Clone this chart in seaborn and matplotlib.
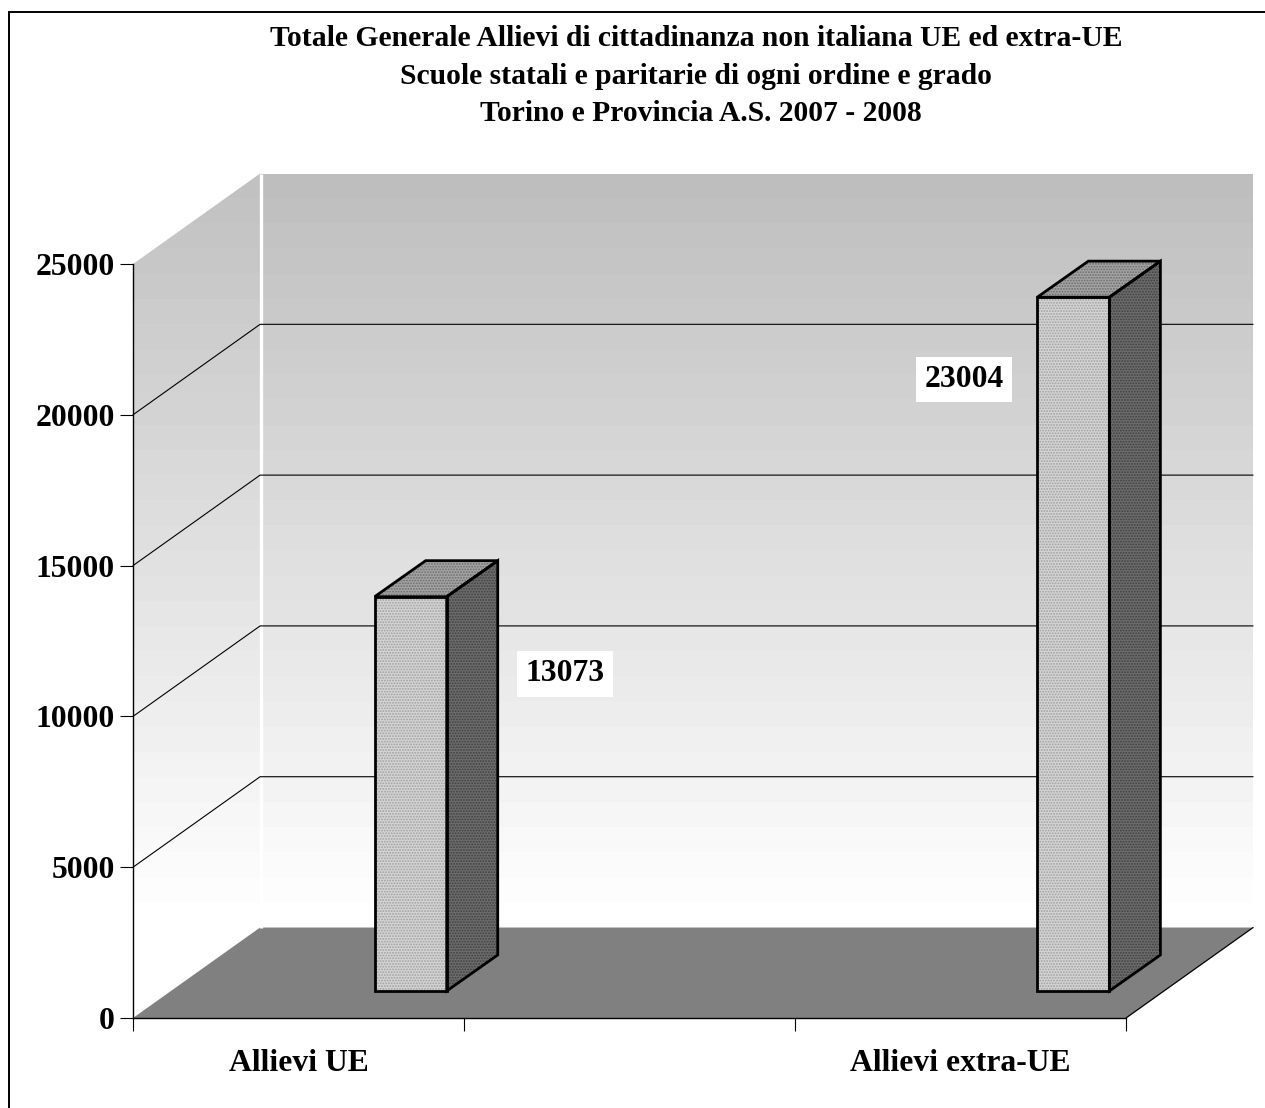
import numpy as np
import matplotlib
matplotlib.use("Agg")
import matplotlib.pyplot as plt
from matplotlib.lines import Line2D
from matplotlib.patches import Polygon
import seaborn as sns

title_lines = ["Totale Generale Allievi di cittadinanza non italiana UE ed extra-UE",
               "Scuole statali e paritarie di ogni ordine e grado",
               "Torino e Provincia A.S. 2007 - 2008"]
categories = ["Allievi UE", " ", "Allievi extra-UE"]
values = [13073, np.nan, 23004]
y_ticks = [0, 5000, 10000, 15000, 20000, 25000]

W, H = 1265, 1108
sns.set_theme(style="white")
plt.rcParams["font.family"] = ["Liberation Serif", "DejaVu Serif"]
plt.rcParams["font.weight"] = "bold"
plt.rcParams["hatch.linewidth"] = 0.9

fig = plt.figure(figsize=(W / 100, H / 100), dpi=100, facecolor="white")


def px_axes(left, bottom_y, width, height, **kw):
    return fig.add_axes([left / W, (H - bottom_y) / H, width / W, height / H], **kw)


ax = px_axes(133, 1018, 993, 754)
ax.set_facecolor("none")
ax.set_xlim(-0.5, 2.5)
ax.set_ylim(0, 25000)

# depth of the 3D box, in data units
dx, dy = 0.384, 3000
x0, x1 = -0.5, 2.5
y1 = 25000


def gradient(verts, top_grey, zorder):
    """Banded grey gradient (dark at top, white at the bottom of the back wall)."""
    bands = np.linspace(top_grey, 1.0, 30).reshape(-1, 1)
    im = ax.imshow(bands, cmap="gray", vmin=0, vmax=1, aspect="auto", origin="upper",
                   extent=(x0, x1 + dx, dy, y1 + dy), interpolation="nearest", zorder=zorder)
    clip = Polygon(verts, closed=True, transform=ax.transData)
    im.set_clip_on(True)
    im.set_clip_box(fig.bbox)
    im.set_clip_path(clip)
    return im


# side wall and back wall
left_wall = [(x0, dy), (x0 + dx, dy), (x0 + dx, y1 + dy), (x0, y1)]
back_wall = [(x0 + dx, dy), (x1 + dx, dy), (x1 + dx, y1 + dy), (x0 + dx, y1 + dy)]
gradient(back_wall, 0.745, 1)
gradient(left_wall, 0.755, 1)

ax.set_xlim(x0, x1)
ax.set_ylim(0, y1)

# floor
ax.add_patch(Polygon([(x0, 0), (x0 + dx, dy), (x1 + dx, dy), (x1, 0)], closed=True,
                     fc="#808080", ec="none", zorder=2, clip_on=False))
ax.plot([x1, x1 + dx], [0, dy], color="black", lw=0.9, zorder=3, clip_on=False)
# white corner between walls
ax.plot([x0 + dx + 0.003, x0 + dx + 0.003], [dy, y1 + dy], color="white", lw=2.4, zorder=3, clip_on=False,
        solid_capstyle="butt")

# grid on the walls
for t in y_ticks[1:-1]:
    ax.plot([x0, x0 + dx, x1 + dx], [t, t + dy, t + dy], color="black", lw=0.8,
            zorder=3, clip_on=False, solid_joinstyle="miter")

# axes
for s in ["top", "right"]:
    ax.spines[s].set_visible(False)
for s in ["left", "bottom"]:
    ax.spines[s].set_visible(True)
    ax.spines[s].set_color("black")
    ax.spines[s].set_linewidth(1.0)
    ax.spines[s].set_zorder(4)
ax.spines["left"].set_bounds(0, y1)
ax.set_yticks(y_ticks)
ax.set_yticklabels([str(t) for t in y_ticks])
ax.set_xticks([-0.5, 0.5, 1.5, 2.5])
ax.set_xticklabels([])
ax.set_xticks([0, 1, 2], minor=True)
ax.set_xticklabels(categories, minor=True)
ax.tick_params(axis="y", which="major", left=True, length=9.4, width=0.8, color="black",
               labelsize=22.8, pad=3.7, labelcolor="black")
ax.tick_params(axis="x", which="major", bottom=True, length=9.4, width=0.8, color="black")
ax.tick_params(axis="x", which="minor", bottom=False, labelsize=22.8, pad=18, labelcolor="black")
for lab in ax.get_yticklabels() + ax.get_xticklabels(minor=True):
    lab.set_fontweight("bold")

# bars on an overlay axes, offset into the depth of the box
ov = px_axes(133 + 112, 991, 994, 754, sharex=None)
ov.patch.set_alpha(0)
sns.barplot(x=categories, y=values, ax=ov, width=0.2175, color="#c9c9c9", saturation=1, legend=False)
ov.set_xlim(x0, x1)
ov.set_ylim(0, y1)
ov.axis("off")

bdx, bdy = 0.154, 1195
label_offset = {0: (0.466, -2560), 2: (-0.329, -2720)}


def stippled(verts, fc, hc, hatch, z):
    ov.add_patch(Polygon(verts, closed=True, fc=fc, ec="none", zorder=z, clip_on=False))
    ov.add_patch(Polygon(verts, closed=True, fill=False, ec=hc, lw=0, hatch=hatch, zorder=z, clip_on=False))
    ov.add_patch(Polygon(verts, closed=True, fill=False, ec="black", lw=2.0, zorder=z + 0.5,
                         clip_on=False, joinstyle="miter"))


for i, bar in enumerate(list(ov.patches)):
    h = bar.get_height()
    if not np.isfinite(h) or h == 0:
        bar.set_visible(False)
        continue
    l, r = bar.get_x(), bar.get_x() + bar.get_width()
    bar.set_visible(False)
    stippled([(l, 0), (r, 0), (r, h), (l, h)], "#d4d4d4", "#a0a0a0", "......", 5)
    stippled([(r, 0), (r + bdx, bdy), (r + bdx, h + bdy), (r, h)], "#6c6c6c", "#404040", "......", 5)
    stippled([(l, h), (r, h), (r + bdx, h + bdy), (l + bdx, h + bdy)], "#a4a4a4", "#6c6c6c", "......", 5)

for i, v in enumerate(values):
    if np.isfinite(v):
        ox, oy = label_offset[i]
        ov.text(i + ox, v + oy, str(v), ha="center", va="center",
                fontsize=22.8, fontweight="bold", color="black", zorder=7,
                bbox=dict(fc="white", ec="none", pad=6))

# title and outer frame
for line, tx, ty in zip(title_lines, [696, 696, 701], [46, 84, 121]):
    fig.text(tx / W, 1 - ty / H, line, ha="center", va="baseline", fontsize=21.3,
             fontweight="bold", color="black")
fig.add_artist(Line2D([8.5 / W, 8.5 / W, 1], [0, 1 - 11.5 / H, 1 - 11.5 / H], color="black", lw=1.4,
                      solid_joinstyle="miter"))

fig.savefig("out.png", dpi=100)
